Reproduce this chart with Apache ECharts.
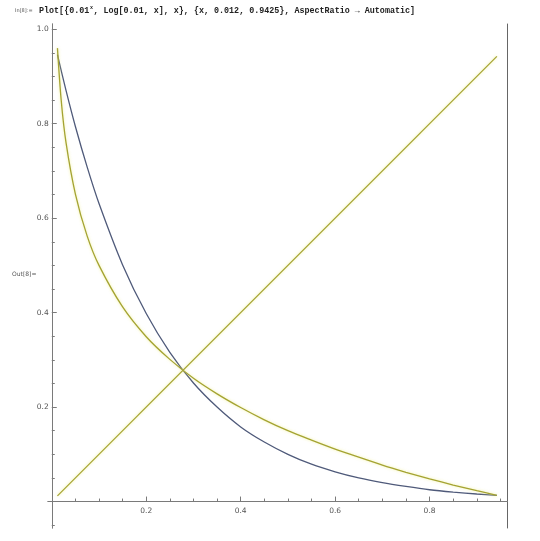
<!DOCTYPE html>
<html><head><meta charset="utf-8">
<script src="https://cdn.jsdelivr.net/npm/echarts@6/dist/echarts.min.js"></script>
<style>html,body{margin:0;padding:0;background:#fff}#c{width:540px;height:541px}</style>
</head><body><div id="c"></div>
<script>
// Values
var expX = [0.012, 0.03, 0.05, 0.075, 0.1, 0.15, 0.2, 0.25, 0.3, 0.35, 0.4, 0.45, 0.5, 0.55, 0.6, 0.65, 0.7, 0.75, 0.8, 0.85, 0.9, 0.9425];
var expY = [0.946, 0.871, 0.794, 0.708, 0.631, 0.501, 0.398, 0.316, 0.251, 0.200, 0.158, 0.126, 0.100, 0.079, 0.063, 0.050, 0.040, 0.032, 0.025, 0.020, 0.016, 0.013];
var logX = [0.012, 0.02, 0.03, 0.05, 0.075, 0.1, 0.15, 0.2, 0.25, 0.3, 0.35, 0.4, 0.45, 0.5, 0.55, 0.6, 0.65, 0.7, 0.75, 0.8, 0.85, 0.9, 0.9425];
var logY = [0.960, 0.849, 0.761, 0.651, 0.562, 0.500, 0.412, 0.349, 0.301, 0.261, 0.228, 0.199, 0.173, 0.150, 0.130, 0.111, 0.094, 0.077, 0.062, 0.048, 0.035, 0.023, 0.013];
var idX = [0.012, 0.9425];
var idY = [0.012, 0.9425];
var xMajor = [0.2, 0.4, 0.6, 0.8];
var xMinor = [0.05, 0.1, 0.15, 0.25, 0.3, 0.35, 0.45, 0.5, 0.55, 0.65, 0.7, 0.75, 0.85, 0.9, 0.95];
var yMajor = [0.2, 0.4, 0.6, 0.8, 1.0];
var yMinor = [-0.05, 0.05, 0.1, 0.15, 0.25, 0.3, 0.35, 0.45, 0.5, 0.55, 0.65, 0.7, 0.75, 0.85, 0.9, 0.95];
var inLabel = 'In[8]:=';
var outLabel = 'Out[8]=';
var titleHead = 'Plot[{0.01';
var titleSup = 'x';
var titleRest = ', Log[0.01, x], x}, {x, 0.012, 0.9425}, AspectRatio \u2192 Automatic]';

function pairs(xs, ys){ return xs.map(function(x,i){return [x, ys[i]];}); }

var X_MIN = -0.008, X_MAX = 0.965, Y_MIN = -0.056, Y_MAX = 1.011;
var GL = 48, GR = 32.5, GT = 24, GB = 13, W = 540, H = 541;
var unitX = (W - GL - GR) / (X_MAX - X_MIN);
var unitY = (H - GT - GB) / (Y_MAX - Y_MIN);
var xOff = -(0 - X_MIN) * unitX;   // shift y axis to x = 0
var yOff = -(0 - Y_MIN) * unitY;   // shift x axis to y = 0
var axisCol = '#7a7a7a';
var blue = '#4f5a7a', yellow = '#a4a332';

function xAx(ticks, len, labels){
  return {type:'value', min:X_MIN, max:X_MAX, position:'bottom', offset:yOff,
    axisLine:{show:true, onZero:false, lineStyle:{color:axisCol, width:1}},
    axisTick:{show:true, inside:true, length:len, customValues:ticks, lineStyle:{color:axisCol}},
    axisLabel:{show:!!labels, customValues: labels || [], margin:5, fontSize:7.5, color:'#555', fontFamily:'DejaVu Sans', formatter:function(v){return v.toFixed(1);}},
    splitLine:{show:false}};
}
function yAx(ticks, len, labels){
  return {type:'value', min:Y_MIN, max:Y_MAX, position:'left', offset:xOff,
    axisLine:{show:true, onZero:false, lineStyle:{color:axisCol, width:1}},
    axisTick:{show:true, inside:true, length:len, customValues:ticks, lineStyle:{color:axisCol}},
    axisLabel:{show:!!labels, customValues: labels || [], margin:3, fontSize:7.5, color:'#555', fontFamily:'DejaVu Sans', formatter:function(v){return v.toFixed(1);}},
    splitLine:{show:false}};
}

var FS = 8.4, CW = FS * 0.6;
var headW = titleHead.length * CW;

var chart = echarts.init(document.getElementById('c'), null, {renderer:'canvas'});
chart.setOption({
  animation:false,
  backgroundColor:'#fff',
  graphic:[
    {type:'text', x:15, y:11, style:{text:inLabel, fontSize:5, fill:'#555', fontFamily:'DejaVu Sans', verticalAlign:'middle'}},
    {type:'text', x:39, y:11, style:{text:titleHead, fontSize:FS, fontWeight:'bold', fill:'#222', fontFamily:'Liberation Mono', verticalAlign:'middle'}},
    {type:'text', x:39 + headW + 0.5, y:8, style:{text:titleSup, fontSize:5, fontWeight:'bold', fill:'#222', fontFamily:'Liberation Mono', verticalAlign:'middle'}},
    {type:'text', x:39 + headW + 4, y:11, style:{text:titleRest, fontSize:FS, fontWeight:'bold', fill:'#222', fontFamily:'Liberation Mono', verticalAlign:'middle'}},
    {type:'text', x:12, y:274, style:{text:outLabel, fontSize:6, fill:'#555', fontFamily:'DejaVu Sans', verticalAlign:'middle'}}
  ],
  grid:{left:GL, right:GR, top:GT, bottom:GB, containLabel:false},
  xAxis:[xAx(xMajor, 5, xMajor), xAx(xMinor, 3, null)],
  yAxis:[yAx(yMajor, 5, yMajor), yAx(yMinor, 3, null),
    {type:'value', min:Y_MIN, max:Y_MAX, position:'right',
     axisLine:{show:true, onZero:false, lineStyle:{color:'#666', width:1}},
     axisTick:{show:false}, axisLabel:{show:false}, splitLine:{show:false}}],
  series:[
    {type:'line', xAxisIndex:0, yAxisIndex:0, data:pairs(expX, expY), smooth:0.3, showSymbol:false,
     lineStyle:{color:blue, width:1.3}},
    {type:'line', xAxisIndex:0, yAxisIndex:0, data:pairs(logX, logY), smooth:0.3, showSymbol:false,
     lineStyle:{color:yellow, width:1.3, shadowColor:'rgba(235,235,110,0.7)', shadowBlur:3}},
    {type:'line', xAxisIndex:0, yAxisIndex:0, data:pairs(idX, idY), showSymbol:false,
     lineStyle:{color:yellow, width:1.3, shadowColor:'rgba(235,235,110,0.7)', shadowBlur:3}}
  ]
});
</script></body></html>
